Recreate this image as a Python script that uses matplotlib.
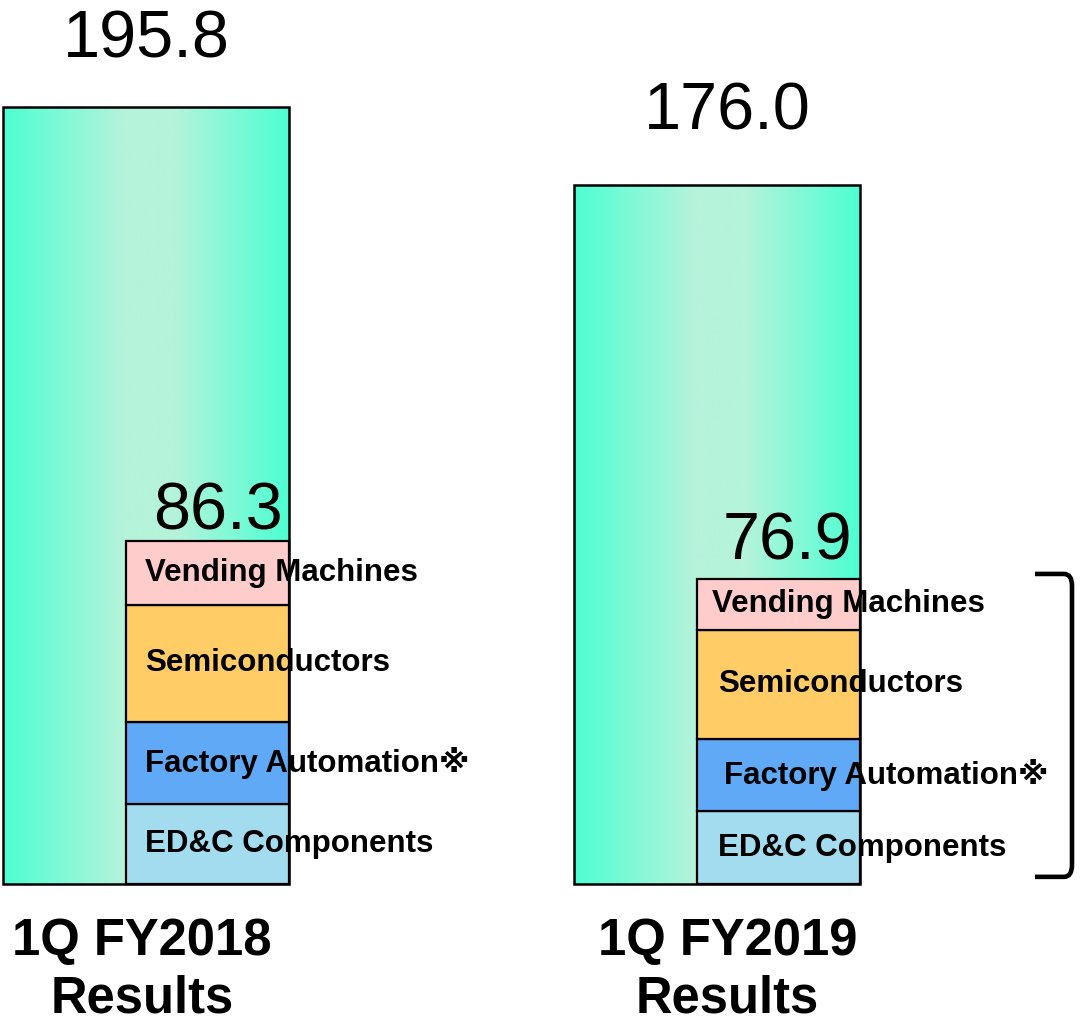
import numpy as np
import matplotlib
matplotlib.use("Agg")
import matplotlib.pyplot as plt
from matplotlib.patches import PathPatch
from matplotlib.path import Path
from matplotlib.colors import to_rgb

plt.rcParams['font.family'] = ['Liberation Sans', 'DejaVu Sans', 'Noto Sans CJK JP']

# ---------------- data ----------------
categories = ['1Q FY2018\nResults', '1Q FY2019\nResults']
totals = [195.8, 176.0]
segment_names = ['ED&C Components', 'Factory Automation※', 'Semiconductors', 'Vending Machines']
edc = [20.1, 18.3]
fa = [20.8, 18.3]
semi = [29.4, 27.5]
vending = [16.0, 12.8]
sub_totals = [86.3, 76.9]

# ---------------- style ----------------
seg_colors = ['#A3DCEE', '#5FA9F6', '#FFCC66', '#FFCCCC']
edge_col = '#4DFFD2'
mid_col = '#B5F3DB'

W, H = 1080, 1026
fig = plt.figure(figsize=(W / 100, H / 100), dpi=100)
ax = fig.add_axes([0, 0, 1, 1])
scale = 3.97  # pixels per unit
ax.set_xlim(0, W)
ax.set_ylim(-142 / scale, (H - 142) / scale)
ax.axis('off')

big_x = [146, 716.5]
big_w = 286
sub_shift = 20          # stacked bar left edge relative to big bar centre
sub_w = 163
label_pad = [[19, 19, 19, 19], [22, 27, 22, 15]]
total_pad_px = [49, 56]
total_dx = [0, 11]
sub_pad_px = [12, 19]
sub_dx = [10, 9]
cat_dx = [-4, 11]

# gradient image (edge -> light plateau -> edge)
t = np.linspace(0, 1, 400)
a, b = 0.42, 0.60
f = np.where(t < a, t / a, np.where(t > b, (1 - t) / (1 - b), 1.0))
ec, mc = np.array(to_rgb(edge_col)), np.array(to_rgb(mid_col))
grad = ec[None, :] * (1 - f[:, None]) + mc[None, :] * f[:, None]
grad = grad[None, :, :]

for i in range(len(categories)):
    left = big_x[i] - big_w / 2
    bars = ax.bar(big_x[i], totals[i], width=big_w, color='none', edgecolor='none', zorder=1)
    im = ax.imshow(grad, extent=(left, left + big_w, 0, totals[i]), aspect='auto', zorder=1,
                   interpolation='bilinear')
    im.set_clip_path(bars[0])

    # stacked sub-bar
    sub_left = big_x[i] - sub_shift
    sub_c = sub_left + sub_w / 2
    bottom = 0
    seg_vals = [edc[i], fa[i], semi[i], vending[i]]
    for j, v in enumerate(seg_vals):
        ax.bar(sub_c, v, bottom=bottom, width=sub_w, color=seg_colors[j],
               edgecolor='black', linewidth=1.6, zorder=2)
        ax.text(sub_left + label_pad[i][j], bottom + v / 2, segment_names[j],
                ha='left', va='center', fontsize=22.5, fontweight='bold', zorder=3)
        bottom += v

    # outline of big bar on top of text
    ax.bar(big_x[i], totals[i], width=big_w, color='none', edgecolor='black',
           linewidth=1.8, zorder=4)

    # totals labels
    ax.annotate(f'{totals[i]:.1f}', xy=(big_x[i] + total_dx[i], totals[i]),
                xytext=(0, total_pad_px[i]), textcoords='offset pixels',
                ha='center', va='baseline', fontsize=48, zorder=5)
    ax.annotate(f'{sub_totals[i]:.1f}', xy=(sub_c + sub_dx[i], sum(seg_vals)),
                xytext=(0, sub_pad_px[i]), textcoords='offset pixels',
                ha='center', va='baseline', fontsize=48, zorder=5)

    # category label
    ax.annotate(categories[i], xy=(big_x[i] + cat_dx[i], 0), xytext=(0, -33),
                textcoords='offset pixels', ha='center', va='top', fontsize=36.5,
                fontweight='bold', linespacing=1.22)

# bracket next to the FY2019 stacked bar
top = sum([edc[1], fa[1], semi[1], vending[1]]) + 1.2
bot = 1.8
x0, x1 = 1035, 1072
r = 3.0
verts = [(x0, top), (x1 - 8, top), (x1, top), (x1, top - r),
         (x1, bot + r), (x1, bot), (x1 - 8, bot), (x0, bot)]
codes = [Path.MOVETO, Path.LINETO, Path.CURVE3, Path.CURVE3,
         Path.LINETO, Path.CURVE3, Path.CURVE3, Path.LINETO]
ax.add_patch(PathPatch(Path(verts, codes), facecolor='none', edgecolor='black',
                       linewidth=3.3, capstyle='butt', zorder=5))

fig.savefig('out.png', dpi=100)
